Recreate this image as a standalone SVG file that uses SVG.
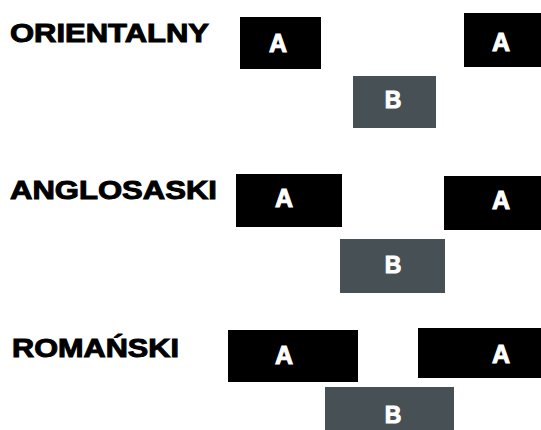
<svg xmlns="http://www.w3.org/2000/svg" width="541" height="430" viewBox="0 0 541 430">
<style>
.bg{fill:#ffffff}
.title{font-family:"Liberation Sans",Arial,sans-serif;font-weight:bold;font-size:26.5px;fill:#000;stroke:#000;stroke-width:1px}
.a rect{fill:#000000}
.b rect{fill:#475055}
.lbl{font-family:"Liberation Sans",Arial,sans-serif;font-weight:bold;font-size:25px;fill:#fff;stroke:#fff;stroke-width:1px;text-anchor:middle}
.b .lbl{font-size:23px}
</style>
<rect class="bg" x="0" y="0" width="541" height="430"/>
<g id="row-orientalny">
  <text class="title" x="10" y="42" textLength="199" lengthAdjust="spacingAndGlyphs">ORIENTALNY</text>
  <g id="o-a1" class="a"><rect x="240" y="17" width="81" height="52"/><text class="lbl" x="278" y="52">A</text></g>
  <g id="o-a2" class="a"><rect x="464" y="13" width="80" height="54"/><text class="lbl" x="501" y="51">A</text></g>
  <g id="o-b" class="b"><rect x="353" y="76" width="83" height="52"/><text class="lbl" x="393" y="108">B</text></g>
</g>
<g id="row-anglosaski">
  <text class="title" x="10" y="199" textLength="207" lengthAdjust="spacingAndGlyphs">ANGLOSASKI</text>
  <g id="g-a1" class="a"><rect x="236" y="174" width="106" height="53"/><text class="lbl" x="284" y="207">A</text></g>
  <g id="g-a2" class="a"><rect x="444" y="176" width="100" height="54"/><text class="lbl" x="501" y="209">A</text></g>
  <g id="g-b" class="b"><rect x="340" y="239" width="105" height="54"/><text class="lbl" x="393" y="273">B</text></g>
</g>
<g id="row-romanski">
  <text class="title" x="12" y="357" textLength="167" lengthAdjust="spacingAndGlyphs">ROMAŃSKI</text>
  <g id="r-a1" class="a"><rect x="228" y="330" width="130" height="52"/><text class="lbl" x="284" y="364">A</text></g>
  <g id="r-a2" class="a"><rect x="418" y="328" width="125" height="50"/><text class="lbl" x="501" y="363">A</text></g>
  <g id="r-b" class="b"><rect x="325" y="387" width="129" height="47"/><text class="lbl" x="393" y="423">B</text></g>
</g>
<g id="connectors"></g>
</svg>
